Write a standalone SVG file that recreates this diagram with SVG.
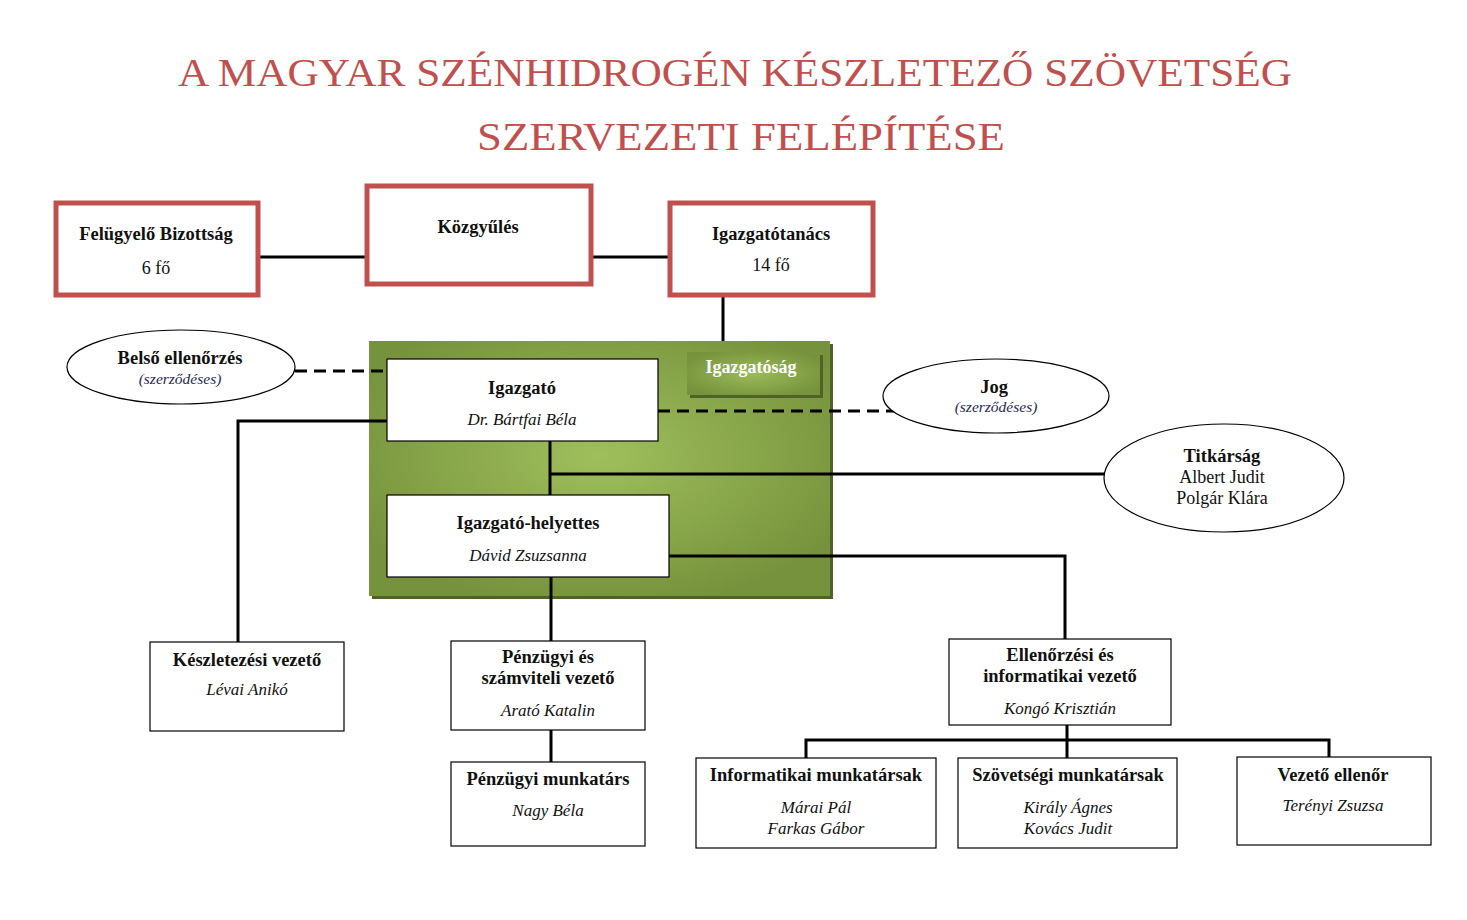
<svg xmlns="http://www.w3.org/2000/svg" width="1467" height="920" viewBox="0 0 1467 920">
<style>
text{font-family:"Liberation Serif","DejaVu Serif",serif;fill:#111;text-anchor:middle}
.title{font-size:41px;fill:#c0504d}
.b{font-weight:bold;font-size:18.5px}
.r{font-size:18px}
.i{font-style:italic;font-size:17px}
.red{fill:#fff;stroke:#c0504d;stroke-width:5}
.box{fill:#fff;stroke:#000;stroke-width:1.2}
.ell{fill:#fff;stroke:#000;stroke-width:1.2}
.ln{stroke:#000;stroke-width:3;fill:none}
.dash{stroke:#000;stroke-width:3;fill:none;stroke-dasharray:12 7}
</style>
<defs>
<radialGradient id="g" cx="0.5" cy="0.45" r="0.6">
<stop offset="0" stop-color="#9fbf5c"/>
<stop offset="1" stop-color="#76923c"/>
</radialGradient>
<radialGradient id="g2" cx="0.5" cy="0.5" r="0.6">
<stop offset="0" stop-color="#9bbb59"/>
<stop offset="1" stop-color="#76923c"/>
</radialGradient>
</defs>
<rect width="1467" height="920" fill="#fff"/>
<g id="title">
<text class="title" x="735" y="86" textLength="1114" lengthAdjust="spacingAndGlyphs">A MAGYAR SZÉNHIDROGÉN KÉSZLETEZŐ SZÖVETSÉG</text>
<text class="title" x="741" y="150" textLength="528" lengthAdjust="spacingAndGlyphs">SZERVEZETI FELÉPÍTÉSE</text>
</g>
<g id="panel">
<rect x="372" y="344" width="461" height="255" fill="#4f6228"/>
<rect x="369" y="341" width="461" height="255" fill="url(#g)"/>
<rect x="690" y="355" width="133" height="43" fill="#4f6228"/>
<rect x="687" y="352" width="133" height="43" fill="url(#g2)"/>
<text x="751" y="373" style="font-weight:bold;font-size:18px;fill:#fff">Igazgatóság</text>
</g>
<g id="connectors">
<line class="ln" x1="258" y1="257" x2="367" y2="257"/>
<line class="ln" x1="591" y1="257" x2="670" y2="257"/>
<line class="ln" x1="723" y1="295" x2="723" y2="341"/>
<line class="dash" x1="295" y1="371" x2="387" y2="371"/>
<line class="dash" x1="658" y1="411" x2="895" y2="411"/>
<polyline class="ln" points="387,421 238,421 238,642"/>
<line class="ln" x1="550" y1="441" x2="550" y2="495"/>
<line class="ln" x1="550" y1="474" x2="1104" y2="474"/>
<polyline class="ln" points="669,556 1065,556 1065,639"/>
<line class="ln" x1="551" y1="577" x2="551" y2="641"/>
<line class="ln" x1="551" y1="730" x2="551" y2="762"/>
<line class="ln" x1="1067" y1="725" x2="1067" y2="758"/>
<polyline class="ln" points="806,758 806,740 1329,740 1329,757"/>
</g>
<g id="felugyelo">
<rect class="red" x="56" y="203" width="202" height="92"/>
<text class="b" x="156" y="240">Felügyelő Bizottság</text>
<text class="r" x="156" y="274">6 fő</text>
</g>
<g id="kozgyules">
<rect class="red" x="367" y="186" width="224" height="98"/>
<text class="b" x="478" y="233">Közgyűlés</text>
</g>
<g id="igazgatotanacs">
<rect class="red" x="670" y="203" width="203" height="92"/>
<text class="b" x="771" y="240">Igazgatótanács</text>
<text class="r" x="771" y="271">14 fő</text>
</g>
<g id="igazgato">
<rect class="box" x="387" y="359" width="271" height="82"/>
<text class="b" x="522" y="394">Igazgató</text>
<text class="i" x="522" y="425">Dr. Bártfai Béla</text>
</g>
<g id="helyettes">
<rect class="box" x="387" y="495" width="282" height="82"/>
<text class="b" x="528" y="529">Igazgató-helyettes</text>
<text class="i" x="528" y="561">Dávid Zsuzsanna</text>
</g>
<g id="belso">
<ellipse class="ell" cx="181" cy="367" rx="114" ry="37"/>
<text class="b" x="180" y="364">Belső ellenőrzés</text>
<text class="i" x="180" y="384" style="font-size:15.5px;fill:#1f2a55">(szerződéses)</text>
</g>
<g id="jog">
<ellipse class="ell" cx="996" cy="396" rx="113" ry="37"/>
<text class="b" x="994" y="393">Jog</text>
<text class="i" x="996" y="412" style="font-size:15.5px;fill:#1f2a55">(szerződéses)</text>
</g>
<g id="titkarsag">
<ellipse class="ell" cx="1224" cy="478" rx="120" ry="54"/>
<text class="b" x="1222" y="462">Titkárság</text>
<text class="r" x="1222" y="483">Albert Judit</text>
<text class="r" x="1222" y="504">Polgár Klára</text>
</g>
<g id="keszletezesi">
<rect class="box" x="150" y="642" width="194" height="89"/>
<text class="b" x="247" y="666">Készletezési vezető</text>
<text class="i" x="247" y="695">Lévai Anikó</text>
</g>
<g id="penzugyi">
<rect class="box" x="451" y="641" width="194" height="89"/>
<text class="b" x="548" y="663">Pénzügyi és</text>
<text class="b" x="548" y="684">számviteli vezető</text>
<text class="i" x="548" y="716">Arató Katalin</text>
</g>
<g id="penzugyi-munkatars">
<rect class="box" x="451" y="762" width="194" height="84"/>
<text class="b" x="548" y="785">Pénzügyi munkatárs</text>
<text class="i" x="548" y="816">Nagy Béla</text>
</g>
<g id="ellenorzesi">
<rect class="box" x="949" y="639" width="222" height="86"/>
<text class="b" x="1060" y="661">Ellenőrzési és</text>
<text class="b" x="1060" y="682">informatikai vezető</text>
<text class="i" x="1060" y="714">Kongó Krisztián</text>
</g>
<g id="informatikai">
<rect class="box" x="696" y="758" width="240" height="90"/>
<text class="b" x="816" y="781">Informatikai munkatársak</text>
<text class="i" x="816" y="813">Márai Pál</text>
<text class="i" x="816" y="834">Farkas Gábor</text>
</g>
<g id="szovetsegi">
<rect class="box" x="958" y="758" width="219" height="90"/>
<text class="b" x="1068" y="781">Szövetségi munkatársak</text>
<text class="i" x="1068" y="813">Király Ágnes</text>
<text class="i" x="1068" y="834">Kovács Judit</text>
</g>
<g id="vezeto-ellenor">
<rect class="box" x="1237" y="757" width="194" height="88"/>
<text class="b" x="1333" y="781">Vezető ellenőr</text>
<text class="i" x="1333" y="811">Terényi Zsuzsa</text>
</g>
</svg>
